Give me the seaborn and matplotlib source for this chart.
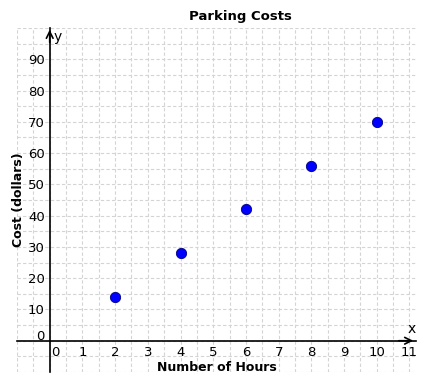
import numpy as np
import pandas as pd
import matplotlib
matplotlib.use('Agg')
import matplotlib.pyplot as plt
import matplotlib.transforms as mtransforms
import seaborn as sns

hours = [2, 4, 6, 8, 10]
cost = [14, 28, 42, 56, 70]
x_ticks = list(range(0, 12))
y_ticks = list(range(0, 100, 10))

df = pd.DataFrame({'Number of Hours': hours, 'Cost': cost})

sns.set_style('white')
plt.rcParams['font.family'] = ['DejaVu Sans']
plt.rcParams['text.color'] = 'black'
plt.rcParams['axes.labelcolor'] = 'black'

fig = plt.figure(figsize=(4.26, 3.84), dpi=100)
ax = fig.add_axes([17 / 426, 1 - 372 / 384, (416 - 17) / 426, (372 - 28) / 384])

sns.scatterplot(data=df, x='Number of Hours', y='Cost', ax=ax, color='#0000ff',
                edgecolor='#000080', linewidth=0.6, s=55, zorder=5, clip_on=False)

ax.set_xlim(-1, 11.2)
ax.set_ylim(-10, 100)

# dashed grid every half step
grid_kw = dict(color='#d4d4d4', linestyle=(0, (3, 2)), linewidth=0.8, zorder=0)
ax.vlines(np.arange(-1, 11.01, 0.5), -10, 100, **grid_kw)
ax.hlines(np.arange(-10, 100.1, 5), -1, 11.2, **grid_kw)

ax.set_xticks(x_ticks)
ax.set_yticks(y_ticks)
ax.set_yticks(np.arange(-10, 100, 2), minor=True)
ax.tick_params(axis='both', which='major', labelsize=9.5, length=3, width=1, direction='inout', pad=2, colors='black')
ax.tick_params(axis='y', which='minor', length=2, width=0.8, direction='inout', colors='black')

for side in ['top', 'right']:
    ax.spines[side].set_visible(False)
ax.spines['left'].set_position(('data', 0))
ax.spines['bottom'].set_position(('data', 0))
for side in ['left', 'bottom']:
    ax.spines[side].set_linewidth(1.2)
    ax.spines[side].set_color('black')

# nudge the zero labels off the crossing
fig.canvas.draw()
for lab in ax.get_xticklabels():
    if lab.get_text() == '0':
        lab.set_transform(lab.get_transform() + mtransforms.ScaledTranslation(6 / 100, 0, fig.dpi_scale_trans))
for lab in ax.get_yticklabels():
    if lab.get_text() == '0':
        lab.set_transform(lab.get_transform() + mtransforms.ScaledTranslation(0, 6 / 100, fig.dpi_scale_trans))

# axis arrows
ax.annotate('', xy=(0, 1.003), xycoords=('data', 'axes fraction'), xytext=(0, 0.95),
            arrowprops=dict(arrowstyle='->', lw=1.2, color='black', mutation_scale=12))
ax.annotate('', xy=(1.0, 0), xycoords=('axes fraction', 'data'), xytext=(0.95, 0),
            arrowprops=dict(arrowstyle='->', lw=1.2, color='black', mutation_scale=12))
ax.text(0.12, 97, 'y', fontsize=10, va='center', ha='left')
ax.text(10.95, 1.5, 'x', fontsize=10, va='bottom', ha='left')

ax.set_xlabel('Number of Hours', fontsize=9, fontweight='bold', labelpad=2)
ax.set_ylabel('Cost (dollars)', fontsize=9, fontweight='bold', labelpad=2)
ax.set_title('Parking Costs', fontsize=9.5, fontweight='bold', pad=6, x=0.56, color='black')

fig.savefig('out.png', dpi=100)
